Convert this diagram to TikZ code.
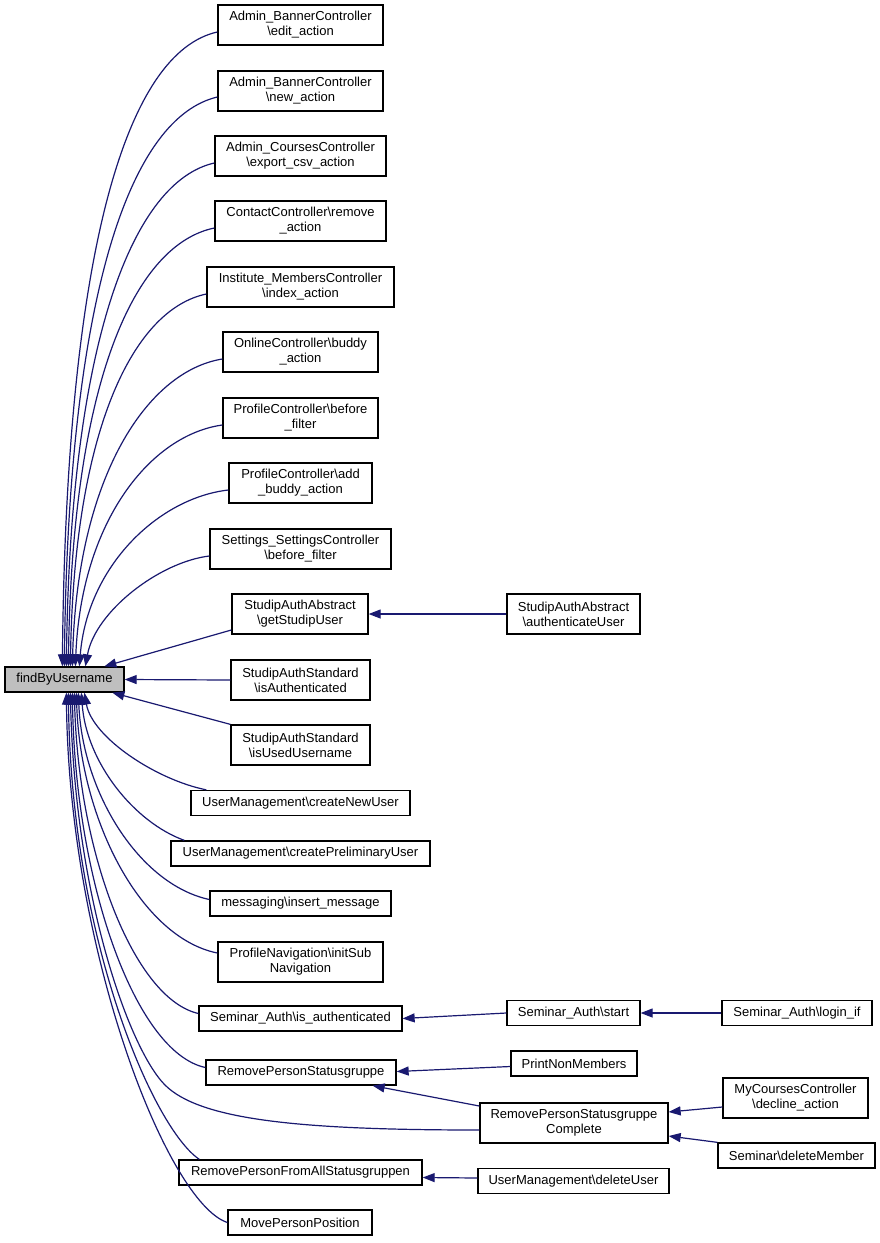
\documentclass[tikz,border=0pt]{standalone}
\usepackage{fontspec}
\setmainfont{Liberation Sans}
\usetikzlibrary{arrows.meta}
\definecolor{edgeblue}{HTML}{191970}
\definecolor{hilite}{HTML}{BFBFBF}
\begin{document}
\begin{tikzpicture}[x=1pt,y=-1pt,
  box/.style={draw=black, line width=1.3pt, fill=white, inner sep=0pt, align=center,
    font=\fontsize{13}{15}\selectfont},
  one/.style={box, minimum height=25pt},
  two/.style={box, minimum height=40pt},
  edge/.style={draw=edgeblue, line width=1.2pt, -{Triangle[length=12pt,width=9pt]}}]
\fill[white] (0,0) rectangle (880,1243);
\useasboundingbox (0,0) rectangle (880,1243);

% target
\node[one, fill=hilite, minimum width=119pt] (f) at (64.5,679.5) {findByUsername};

% callers
\node[two, minimum width=165pt] (e1) at (300.5,25) {Admin\_BannerController\\\textbackslash edit\_action};
\node[two, minimum width=165pt] (e2) at (300.5,91) {Admin\_BannerController\\\textbackslash new\_action};
\node[two, minimum width=171pt] (e3) at (300.5,156) {Admin\_CoursesController\\\textbackslash export\_csv\_action};
\node[two, minimum width=171pt] (e4) at (300.5,221) {ContactController\textbackslash remove\\\_action};
\node[two, minimum width=187pt] (e5) at (300.5,287) {Institute\_MembersController\\\textbackslash index\_action};
\node[two, minimum width=155pt] (e6) at (300.5,352) {OnlineController\textbackslash buddy\\\_action};
\node[two, minimum width=155pt] (e7) at (300.5,418) {ProfileController\textbackslash before\\\_filter};
\node[two, minimum width=143pt] (e8) at (300.5,483) {ProfileController\textbackslash add\\\_buddy\_action};
\node[two, minimum width=181pt] (e9) at (300.5,549) {Settings\_SettingsController\\\textbackslash before\_filter};
\node[two, minimum width=136pt] (g) at (300,614) {StudipAuthAbstract\\\textbackslash getStudipUser};
\node[two, minimum width=133pt] (au) at (573.5,614) {StudipAuthAbstract\\\textbackslash authenticateUser};
\node[two, minimum width=139pt] (ia) at (300.5,680) {StudipAuthStandard\\\textbackslash isAuthenticated};
\node[two, minimum width=139pt] (iu) at (300.5,745) {StudipAuthStandard\\\textbackslash isUsedUsername};
\node[one, minimum width=219pt] (cn) at (300.5,803) {UserManagement\textbackslash createNewUser};
\node[one, minimum width=259pt] (cp) at (300.5,853.5) {UserManagement\textbackslash createPreliminaryUser};
\node[one, minimum width=181pt] (im) at (300.5,903.5) {messaging\textbackslash insert\_message};
\node[two, minimum width=165pt] (ps) at (300.5,962) {ProfileNavigation\textbackslash initSub\\Navigation};
\node[one, minimum width=203pt] (sa) at (300.5,1018.5) {Seminar\_Auth\textbackslash is\_authenticated};
\node[one, minimum width=133pt] (st) at (573.5,1013) {Seminar\_Auth\textbackslash start};
\node[one, minimum width=150pt] (li) at (797,1013) {Seminar\_Auth\textbackslash login\_if};
\node[one, minimum width=190pt] (rp) at (301,1072.5) {RemovePersonStatusgruppe};
\node[one, minimum width=126pt] (pn) at (574,1063.5) {PrintNonMembers};
\node[two, minimum width=188pt] (rc) at (574,1123) {RemovePersonStatusgruppe\\Complete};
\node[two, minimum width=145pt] (mc) at (795.5,1098) {MyCoursesController\\\textbackslash decline\_action};
\node[one, minimum width=157pt] (dm) at (796.5,1155.5) {Seminar\textbackslash deleteMember};
\node[one, minimum width=243pt] (ra) at (300.5,1172.5) {RemovePersonFromAllStatusgruppen};
\node[one, minimum width=191pt] (du) at (573.5,1181) {UserManagement\textbackslash deleteUser};
\node[one, minimum width=144pt] (mp) at (300,1222.5) {MovePersonPosition};

% upper curves into findByUsername
\draw[edge] ([yshift=-7pt]e1.west) .. controls +(-90,20) and +(4,-420) .. ([xshift=58pt]f.north west);
\draw[edge] ([yshift=-6pt]e2.west) .. controls +(-85,20) and +(4,-380) .. ([xshift=60pt]f.north west);
\draw[edge] ([yshift=-7pt]e3.west) .. controls +(-80,18) and +(4,-330) .. ([xshift=62pt]f.north west);
\draw[edge] ([yshift=-7pt]e4.west) .. controls +(-78,16) and +(4,-290) .. ([xshift=64pt]f.north west);
\draw[edge] ([yshift=-7pt]e5.west) .. controls +(-72,15) and +(4,-240) .. ([xshift=66pt]f.north west);
\draw[edge] ([yshift=-7pt]e6.west) .. controls +(-75,12) and +(5,-190) .. ([xshift=68pt]f.north west);
\draw[edge] ([yshift=-7pt]e7.west) .. controls +(-72,10) and +(6,-145) .. ([xshift=71pt]f.north west);
\draw[edge] ([yshift=-7pt]e8.west) .. controls +(-70,8) and +(8,-100) .. ([xshift=75pt]f.north west);
\draw[edge] ([yshift=-7pt]e9.west) .. controls +(-50,6) and +(10,-55) .. ([xshift=81pt]f.north west);
\draw[edge] ([yshift=-16pt]g.west) -- ([xshift=100pt]f.north west);
\draw[edge] (ia.west) -- (f.east);
\draw[edge] (iu.north west) -- ([xshift=108pt]f.south west);

% lower curves into findByUsername
\draw[edge] ([xshift=16pt]cn.north west) .. controls +(-50,-10) and +(8,45) .. ([xshift=80pt]f.south west);
\draw[edge] ([xshift=14pt]cp.north west) .. controls +(-50,-18) and +(5,70) .. ([xshift=77pt]f.south west);
\draw[edge] ([yshift=4pt]im.west) .. controls +(-70,-15) and +(4,100) .. ([xshift=74pt]f.south west);
\draw[edge] ([yshift=9pt]ps.west) .. controls +(-75,-15) and +(4,130) .. ([xshift=72pt]f.south west);
\draw[edge] ([yshift=5pt]sa.west) .. controls +(-65,-15) and +(4,160) .. ([xshift=70pt]f.south west);
\draw[edge] ([yshift=5pt]rp.west) .. controls +(-70,-15) and +(3,190) .. ([xshift=68pt]f.south west);
\draw[edge] ([yshift=-7pt]rc.west) .. controls (300,1130) and (200,1120) .. (165,1085)
   .. controls (130,1050) and (75,900) .. ([xshift=66pt]f.south west);
\draw[edge] ([xshift=21pt]ra.north west) .. controls +(-45,-30) and +(3,250) .. ([xshift=64pt]f.south west);
\draw[edge] (mp.west) .. controls +(-60,-20) and +(3,260) .. ([xshift=62pt]f.south west);

% secondary edges
\draw[edge] (au.west) -- (g.east);
\draw[edge] (st.west) -- (sa.east);
\draw[edge] (li.west) -- (st.east);
\draw[edge] ([yshift=-3pt]pn.west) -- ([yshift=1pt]rp.east);
\draw[edge] ([yshift=17pt]rc.west) -- ([xshift=-24pt]rp.south east);
\draw[edge] ([yshift=-9pt]mc.west) -- ([yshift=11pt]rc.east);
\draw[edge] (dm.north west) -- ([yshift=-13pt]rc.east);
\draw[edge] ([yshift=3pt]du.west) -- ([yshift=-5pt]ra.east);
\end{tikzpicture}
\end{document}
